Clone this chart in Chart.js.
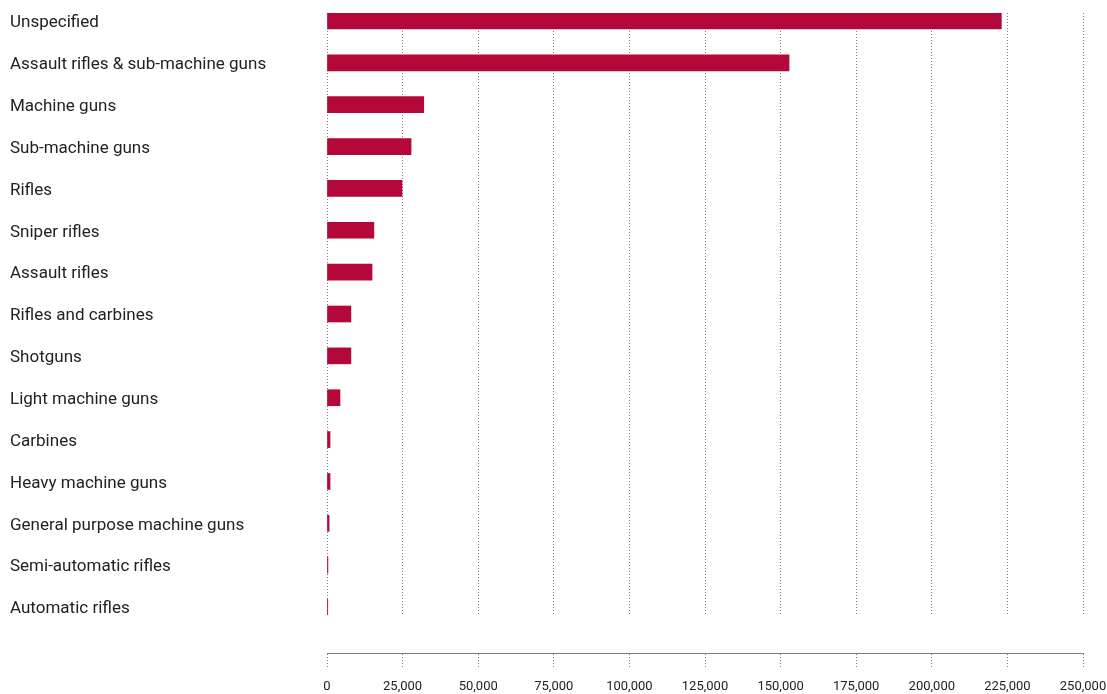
<!DOCTYPE html>
<html>
<head>
<meta charset="utf-8">
<script src="https://cdn.jsdelivr.net/npm/chart.js@4.4.0/dist/chart.umd.min.js"></script>
<style>
html,body{margin:0;padding:0;background:#fff;}
</style>
</head>
<body>
<canvas id="c" width="1107" height="694"></canvas>
<script>
const categories = [
  "Unspecified",
  "Assault rifles & sub-machine guns",
  "Machine guns",
  "Sub-machine guns",
  "Rifles",
  "Sniper rifles",
  "Assault rifles",
  "Rifles and carbines",
  "Shotguns",
  "Light machine guns",
  "Carbines",
  "Heavy machine guns",
  "General purpose machine guns",
  "Semi-automatic rifles",
  "Automatic rifles"
];
const values = [223000, 152800, 32000, 27800, 24800, 15500, 14900, 7900, 7900, 4300, 1000, 1000, 700, 300, 250];
const xTicks = [0, 25000, 50000, 75000, 100000, 125000, 150000, 175000, 200000, 225000, 250000];

const FONT = "Roboto, 'DejaVu Sans Condensed', sans-serif";
const GRID = 'rgba(0,0,0,0.5)';

new Chart(document.getElementById('c'), {
  type: 'bar',
  data: {
    datasets: [{
      data: values.map((v, i) => ({ x: v, y: i })),
      backgroundColor: '#B30838',
      borderWidth: 0,
      barThickness: 16
    }]
  },
  options: {
    indexAxis: 'y',
    responsive: false,
    animation: false,
    layout: { padding: { left: 10, top: 13, right: 24, bottom: 0 } },
    plugins: { legend: { display: false }, tooltip: { enabled: false } },
    scales: {
      y: {
        type: 'linear',
        reverse: true,
        offset: false,
        min: -0.19,
        max: 14.19,
        grid: { display: false },
        border: { display: false },
        afterFit: (sc) => { sc.width = 317; sc.paddingTop = 0; sc.paddingBottom = 0; },
        ticks: {
          stepSize: 1,
          includeBounds: false,
          autoSkip: false,
          crossAlign: 'far',
          labelOffset: 2,
          color: '#222222',
          font: { family: FONT, size: 17 },
          callback: (v) => Number.isInteger(v) ? (categories[v] || '') : ''
        }
      },
      x: {
        type: 'linear',
        position: 'bottom',
        weight: 0,
        min: 0,
        max: 250000,
        afterFit: (sc) => { sc.height = 38; sc.paddingLeft = 0; sc.paddingRight = 0; },
        ticks: { display: false, stepSize: 25000 },
        border: { display: false, dash: [1, 2] },
        grid: { color: GRID, drawTicks: false, lineWidth: 1 }
      },
      x2: {
        type: 'linear',
        position: 'bottom',
        weight: 1,
        min: 0,
        max: 250000,
        afterBuildTicks: (sc) => { sc.ticks = xTicks.map(v => ({ value: v })); },
        afterFit: (sc) => { sc.height = 41; sc.paddingLeft = 0; sc.paddingRight = 0; },
        ticks: {
          padding: 11,
          color: '#222222',
          maxRotation: 0,
          autoSkip: false,
          font: { family: FONT, size: 13 },
          callback: (v) => v.toLocaleString('en-US')
        },
        border: { display: true, color: GRID, dash: [1, 2], width: 1 },
        grid: { drawOnChartArea: false, drawTicks: true, tickLength: 15, tickColor: GRID, tickBorderDash: [1, 2], tickWidth: 1 }
      }
    }
  }
});
</script>
</body>
</html>
